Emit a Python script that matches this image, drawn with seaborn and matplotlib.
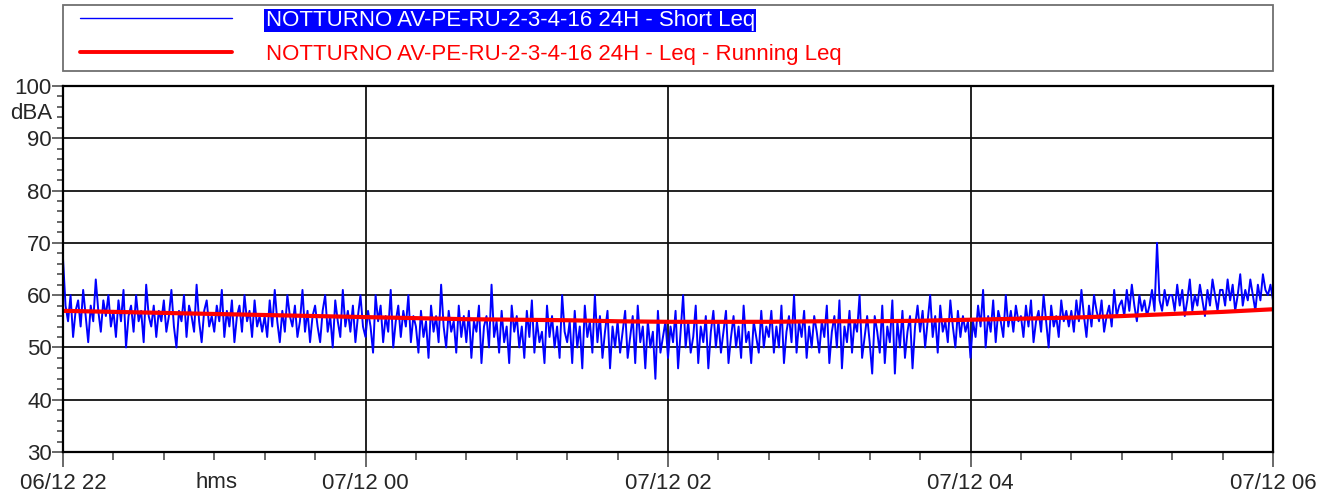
import seaborn as sns
import matplotlib.pyplot as plt
import matplotlib.dates as mdates
from matplotlib.patches import Rectangle
import numpy as np
import pandas as pd

# Short Leq, one value per minute from 06/12 22:00 to 07/12 06:00 (dBA)
short_leq = [
    67, 58, 55, 60, 52, 57, 59, 54, 61, 56, 51, 58, 55, 63, 57, 53, 59, 56, 60, 54,
    57, 52, 59, 55, 61, 50, 56, 58, 53, 60, 55, 57, 51, 62, 56, 54, 58, 52, 57, 55,
    59, 53, 56, 61, 54, 50, 57, 55, 60, 52, 58, 56, 53, 62, 55, 51, 57, 59, 54, 56,
    53, 58, 55, 61, 52, 57, 54, 59, 51, 56, 58, 53, 60, 55, 57, 52, 59, 54, 56, 53,
    56, 52, 59, 54, 61, 55, 51, 57, 53, 60, 56, 54, 58, 52, 55, 61, 53, 57, 51, 56,
    58, 54, 51, 57, 60, 53, 56, 50, 59, 55, 52, 61, 54, 57, 53, 58, 51, 56, 60, 54,
    52, 57, 54, 49, 60, 55, 58, 51, 56, 53, 61, 50, 55, 58, 52, 57, 54, 60, 51, 56,
    54, 49, 57, 52, 55, 48, 58, 53, 56, 51, 62, 54, 50, 57, 53, 55, 49, 58, 52, 56,
    51, 57, 48, 55, 53, 58, 47, 54, 56, 50, 62, 52, 55, 49, 57, 51, 54, 47, 58, 53,
    56, 50, 54, 48, 57, 52, 59, 49, 55, 51, 53, 47, 58, 52, 56, 50, 54, 48, 60, 53,
    51, 55, 47, 57, 50, 54, 46, 58, 52, 55, 49, 60, 51, 56, 48, 53, 57, 46, 54, 50,
    55, 49, 53, 57, 48, 52, 56, 47, 58, 51, 54, 46, 55, 50, 53, 44, 57, 49, 52, 55,
    48, 54, 51, 57, 46, 53, 60, 50, 55, 49, 52, 58, 47, 54, 51, 56, 46, 53, 57, 50,
    55, 49, 53, 57, 47, 52, 56, 50, 54, 48, 58, 51, 53, 47, 55, 52, 49, 57, 50, 54,
    52, 57, 49, 54, 50, 58, 47, 53, 56, 51, 60, 49, 55, 52, 57, 48, 54, 50, 56, 53,
    49, 55, 52, 58, 47, 53, 56, 50, 59, 46, 54, 51, 57, 49, 55, 53, 60, 48, 52, 56,
    51, 45, 56, 53, 49, 58, 47, 54, 51, 59, 45, 55, 50, 57, 48, 53, 56, 46, 54, 58,
    53, 57, 50, 55, 60, 52, 56, 49, 58, 53, 55, 51, 59, 54, 50, 57, 52, 56, 53, 55,
    48, 55, 52, 58, 54, 61, 50, 56, 53, 59, 51, 57, 55, 52, 60, 54, 57, 53, 58, 55,
    56, 52, 58, 54, 59, 51, 55, 57, 53, 60, 55, 50, 58, 54, 56, 52, 59, 55, 57, 54,
    57, 53, 59, 55, 61, 56, 52, 58, 54, 60, 57, 55, 59, 53, 56, 58, 54, 61, 56, 58,
    59, 56, 61, 57, 62, 58, 55, 60, 57, 59, 56, 58, 61, 57, 70, 59, 57, 61, 58, 60,
    60, 57, 62, 58, 61, 56, 59, 63, 57, 60, 58, 62, 59, 56, 61, 58, 63, 60, 57, 61,
    61, 58, 63, 59, 62, 57, 60, 64, 58, 61, 59, 63, 60, 57, 62, 59, 64, 61, 60, 62,
    59,
]

# Running Leq, one value every 20 minutes
running_leq = [
    57.0, 56.8, 56.6, 56.4, 56.2, 56.0, 55.8, 55.6, 55.4, 55.3,
    55.2, 55.0, 54.9, 54.9, 54.9, 55.0, 55.0, 55.1, 55.3, 55.5,
    55.7, 56.0, 56.4, 56.8, 57.3,
]

label_short = 'NOTTURNO AV-PE-RU-2-3-4-16 24H - Short Leq'
label_running = 'NOTTURNO AV-PE-RU-2-3-4-16 24H - Leq - Running Leq'

start, end = pd.Timestamp('2016-12-06 22:00'), pd.Timestamp('2016-12-07 06:00')
df_short = pd.DataFrame({'time': pd.date_range(start, end, periods=len(short_leq)),
                         'leq': short_leq})
df_run = pd.DataFrame({'time': pd.date_range(start, end, periods=len(running_leq)),
                       'leq': running_leq})

sns.set_style('white')
plt.rcParams['font.family'] = ['Liberation Sans', 'DejaVu Sans']

fig = plt.figure(figsize=(13.42, 4.99), dpi=100)
ax = fig.add_axes([63 / 1342, 47 / 499, 1210 / 1342, 366 / 499])

sns.lineplot(data=df_short, x='time', y='leq', color='#0000ff', lw=1.4,
             label=label_short, ax=ax)
sns.lineplot(data=df_run, x='time', y='leq', color='#ff0000', lw=3,
             label=label_running, ax=ax)

ax.set_xlim(start, end)
ax.set_ylim(30, 100)
ax.set_xlabel('')
ax.set_ylabel('')

ax.yaxis.set_major_locator(plt.MultipleLocator(10))
ax.yaxis.set_minor_locator(plt.MultipleLocator(2))
ax.xaxis.set_major_locator(mdates.HourLocator(byhour=range(0, 24, 2)))
ax.xaxis.set_minor_locator(mdates.MinuteLocator(byminute=[0, 20, 40]))
ax.xaxis.set_major_formatter(mdates.DateFormatter('%d/%m %H'))

tick_col = '#404040'
ax.tick_params(axis='y', which='major', direction='out', length=8, width=1.1,
               labelsize=16, pad=0, left=True, color=tick_col)
ax.tick_params(axis='y', which='minor', direction='out', length=4.3, width=1.1,
               left=True, color=tick_col)
ax.tick_params(axis='x', which='major', direction='out', length=10.8, width=1.1,
               labelsize=16, pad=4.5, bottom=True, color=tick_col)
ax.tick_params(axis='x', which='minor', direction='out', length=5.8, width=1.1,
               bottom=True, color=tick_col)

ax.grid(True, which='major', color='#111111', lw=1.3)
for s in ax.spines.values():
    s.set_color('black')
    s.set_linewidth(1.6)

ax.text(-0.009, 0.926, 'dBA', transform=ax.transAxes, ha='right', va='center', fontsize=16)
ax.text(0.127, -0.082, 'hms', transform=ax.transAxes, ha='center', va='center', fontsize=16)

# legend box above the plot
fig.patches.append(Rectangle((63 / 1342, 1 - 71 / 499), 1210 / 1342, 66 / 499,
                             transform=fig.transFigure, fill=False,
                             edgecolor='#707070', lw=1.3))
leg = ax.legend(loc='upper left', bbox_to_anchor=(80 / 1342, 1 - 10 / 499),
                bbox_transform=fig.transFigure, frameon=False, fontsize=16,
                handlelength=6.85, handletextpad=1.5, labelspacing=0.58,
                borderpad=0, borderaxespad=0)
leg.get_lines()[0].set_linewidth(1.0)
leg.get_lines()[1].set_linewidth(2.8)
t0, t1 = leg.get_texts()
t0.set_color('white')
t0.set_bbox(dict(facecolor='#0000ff', edgecolor='none', pad=1))
t1.set_color('#ff0000')

fig.savefig('out.png', dpi=100)
